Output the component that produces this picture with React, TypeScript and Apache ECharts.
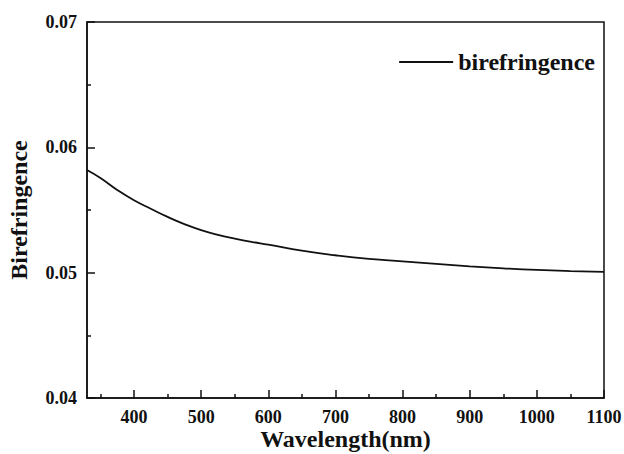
import React, { useEffect, useRef } from "react";
import * as echarts from "echarts";

// Wavelength (nm) and measured birefringence
const wavelengths = [330, 350, 375, 400, 425, 450, 475, 500, 525, 550, 575, 600, 650, 700, 750, 800, 850, 900, 950, 1000, 1050, 1100];
const birefringence = [0.05819, 0.05755, 0.05660, 0.05578, 0.0551, 0.05445, 0.05388, 0.0534, 0.05302, 0.05272, 0.05246, 0.05224, 0.05176, 0.05139, 0.0511, 0.0509, 0.0507, 0.05051, 0.05035, 0.05022, 0.05013, 0.05007];

const majorXTicks = [400, 500, 600, 700, 800, 900, 1000, 1100];
const minorXTicks = [350, 450, 550, 650, 750, 850, 950, 1050];

const FONT = "'Liberation Serif', 'Times New Roman', serif";

export default function App() {
  const ref = useRef<HTMLDivElement>(null);

  useEffect(() => {
    if (!ref.current) return;
    const chart = echarts.init(ref.current, null, { renderer: "svg" });
    const data = wavelengths.map((w, i) => [w, birefringence[i]]);
    chart.setOption({
      animation: false,
      backgroundColor: "#fff",
      grid: {
        left: 87,
        top: 22,
        right: 20,
        bottom: 56,
        containLabel: false,
        outerBoundsMode: "none",
        show: true,
        borderColor: "#111",
        borderWidth: 1.5,
      },
      legend: {
        right: 24,
        top: 45,
        icon: "rect",
        itemWidth: 54,
        itemHeight: 2,
        itemGap: 6,
        textStyle: { fontFamily: FONT, fontWeight: "bold", fontSize: 24, color: "#111" },
        data: ["birefringence"],
      },
      xAxis: [
        {
          type: "value",
          min: 330,
          max: 1100,
          position: "bottom",
          name: "Wavelength(nm)",
          nameLocation: "middle",
          nameGap: 29,
          nameMoveOverlap: false,
          nameTextStyle: { fontFamily: FONT, fontWeight: "bold", fontSize: 24, color: "#111", lineHeight: 24 },
          axisLine: { show: true, lineStyle: { color: "#111", width: 1.5 } },
          axisTick: { show: true, inside: true, length: 8, lineStyle: { color: "#111", width: 1.5 }, customValues: majorXTicks },
          axisLabel: {
            margin: 10,
            fontFamily: FONT,
            fontWeight: "bold",
            fontSize: 18,
            color: "#111",
            customValues: majorXTicks,
            formatter: (v: number) => String(v),
          },
          splitLine: { show: false },
        },
        {
          type: "value",
          min: 330,
          max: 1100,
          position: "bottom",
          axisLine: { show: false },
          axisTick: { show: true, inside: true, length: 4, lineStyle: { color: "#111", width: 1.5 }, customValues: minorXTicks },
          axisLabel: { show: false },
          splitLine: { show: false },
        },
      ],
      yAxis: {
        type: "value",
        min: 0.04,
        max: 0.07,
        interval: 0.01,
        name: "Birefringence",
        nameLocation: "middle",
        nameGap: 56,
        nameMoveOverlap: false,
        nameTextStyle: { fontFamily: FONT, fontWeight: "bold", fontSize: 24, color: "#111" },
        axisLine: { show: true, lineStyle: { color: "#111", width: 1.5 } },
        axisTick: { show: true, inside: true, length: 8, lineStyle: { color: "#111", width: 1.5 } },
        minorTick: { show: true, splitNumber: 2, length: 4, lineStyle: { color: "#111", width: 1.5 } },
        axisLabel: {
          margin: 10,
          fontFamily: FONT,
          fontWeight: "bold",
          fontSize: 18,
          color: "#111",
          formatter: (v: number) => v.toFixed(2),
        },
        splitLine: { show: false },
      },
      series: [
        {
          name: "birefringence",
          type: "line",
          xAxisIndex: 0,
          data,
          smooth: 0.5,
          showSymbol: false,
          lineStyle: { color: "#111", width: 1.8 },
          itemStyle: { color: "#111" },
        },
      ],
    });
    return () => chart.dispose();
  }, []);

  return <div ref={ref} style={{ width: 624, height: 454, position: "absolute", left: 0, top: 0 }} />;
}
